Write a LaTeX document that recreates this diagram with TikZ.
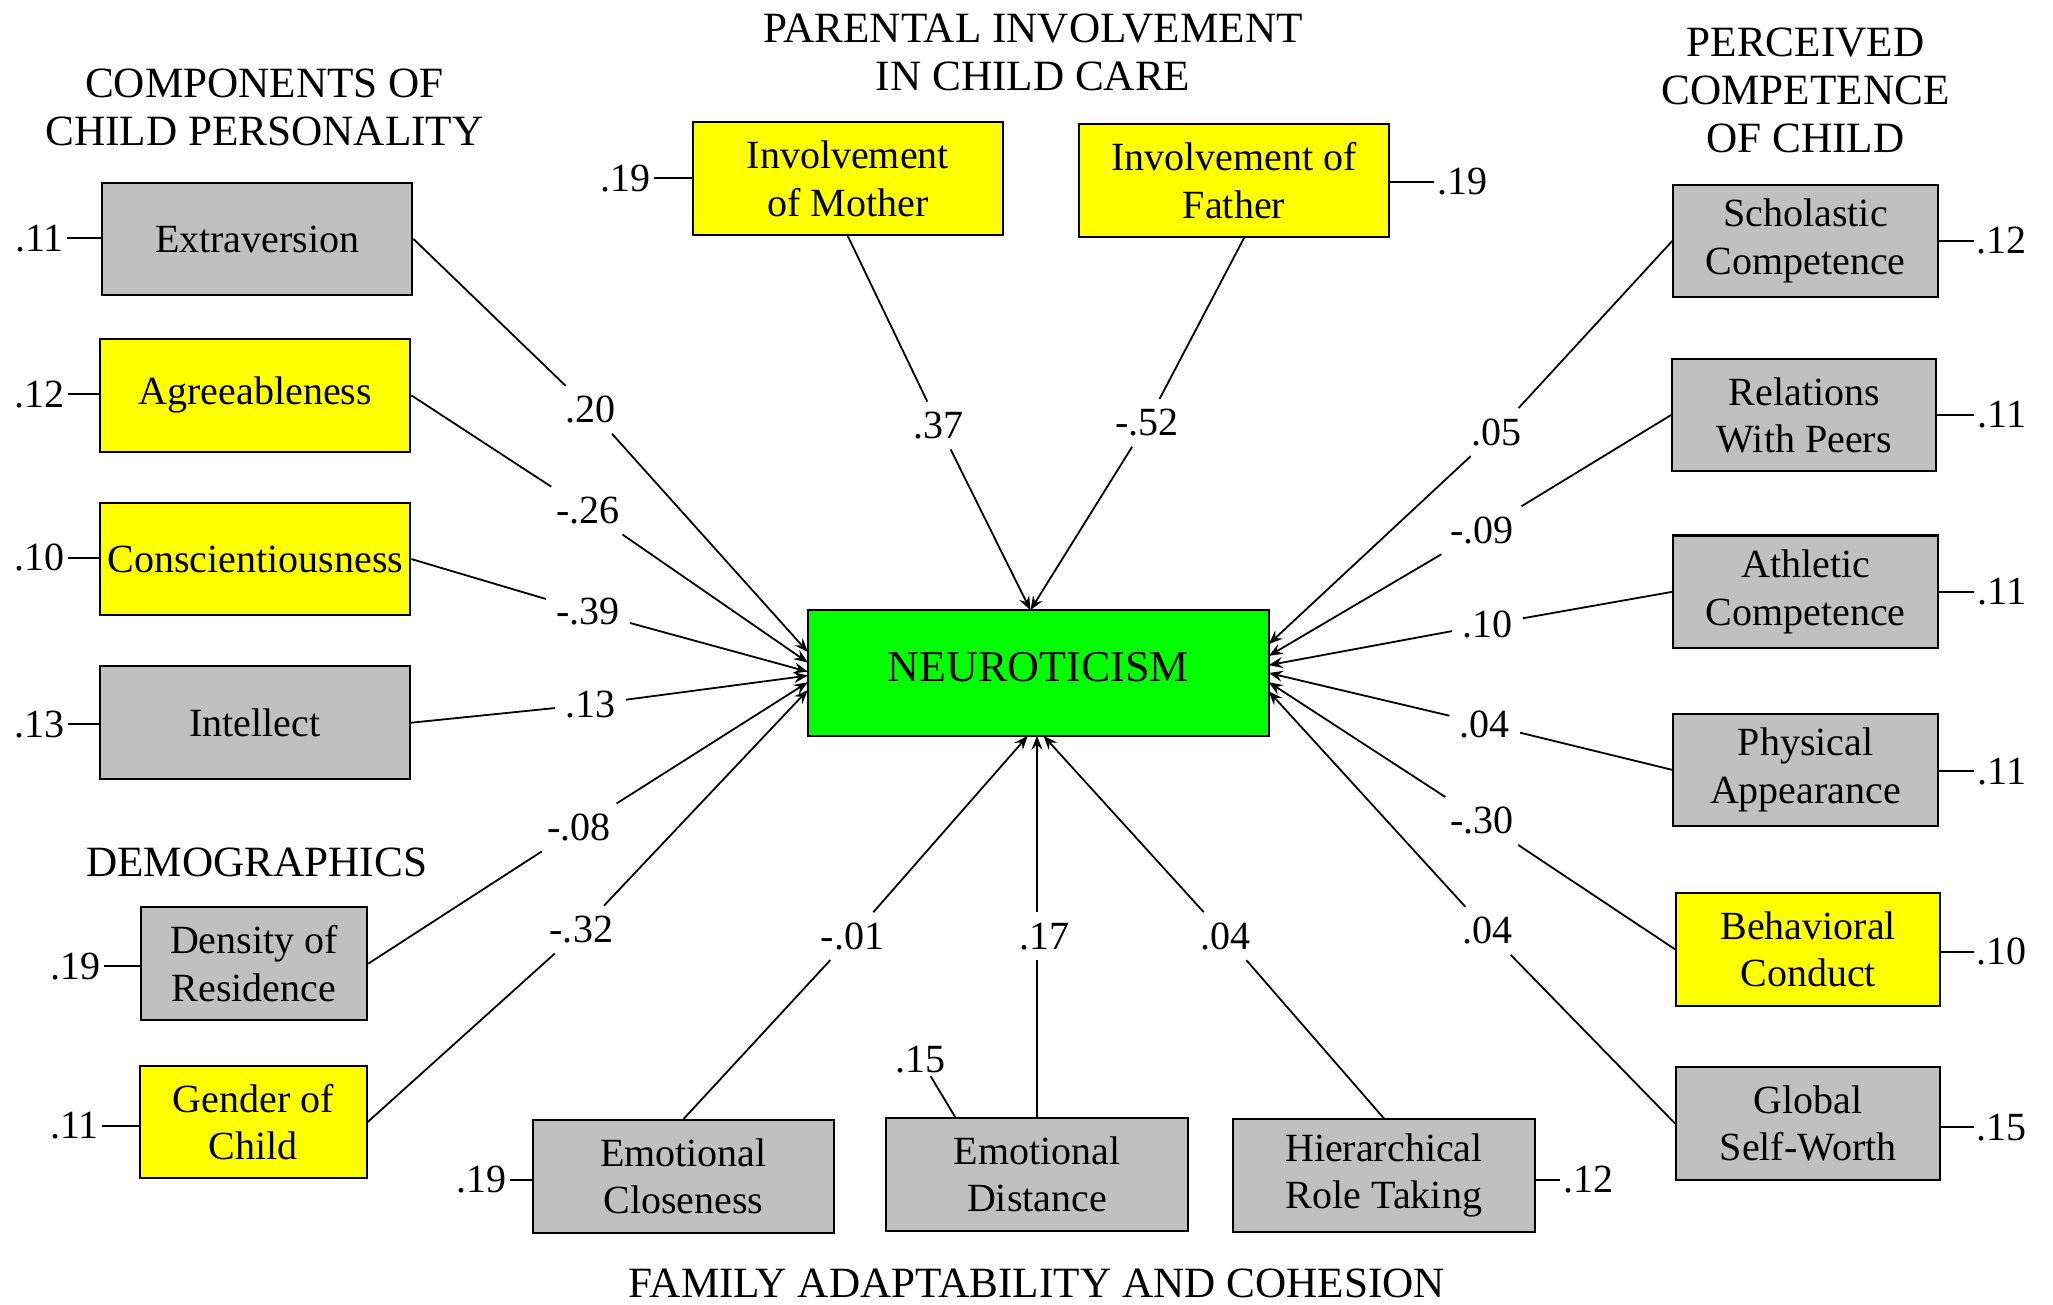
\documentclass[tikz,border=0pt]{standalone}
\usepackage{fontspec}
\setmainfont{Liberation Serif}
\usetikzlibrary{arrows.meta}
\definecolor{boxgray}{RGB}{192,192,192}
\definecolor{boxyellow}{RGB}{255,255,0}
\definecolor{boxgreen}{RGB}{0,255,0}
\newcommand\boxfont{\fontsize{20}{23.6}\selectfont}
\newcommand\headfont{\fontsize{21.6}{24.2}\selectfont}
\newcommand\mainfont{\fontsize{22}{26}\selectfont}
\begin{document}
\begin{tikzpicture}[x=0.6545pt,y=-0.6545pt,
  box/.style={draw, line width=1pt, inner sep=0pt, align=center, font=\boxfont, minimum height=56.3pt},
  gbox/.style={box, fill=boxgray},
  ybox/.style={box, fill=boxyellow},
  wideL/.style={minimum width=155.1pt},
  narrowL/.style={minimum width=113.2pt},
  wideR/.style={minimum width=132.2pt},
  wideB/.style={minimum width=150.5pt},
  coef/.style={inner sep=5pt, font=\boxfont},
  err/.style={inner sep=1.5pt, font=\boxfont},
  head/.style={align=center, font=\headfont},
  conn/.style={line width=0.9pt},
  arr/.style={conn, -{Stealth[length=7pt,width=5.5pt,inset=2.5pt]}}
]
\path[use as bounding box] (0,0) rectangle (1568,996);

% group headings
\node[head] (hPers) at (202,82) {COMPONENTS OF\\CHILD PERSONALITY};
\node[head] (hPar)  at (789,40) {PARENTAL INVOLVEMENT\\IN CHILD CARE};
\node[head] (hComp) at (1379,69) {PERCEIVED\\COMPETENCE\\OF CHILD};
\node[head] (hDem)  at (196,659) {DEMOGRAPHICS};
\node[head] (hFam)  at (792,980) {FAMILY ADAPTABILITY AND COHESION};

% central outcome
\node[box, fill=boxgreen, font=\mainfont, minimum width=230.4pt, minimum height=62.8pt] (neu) at (793,514) {\raisebox{6.5pt}{NEUROTICISM}};

% personality components
\node[gbox, wideL] (ext) at (196.5,182.5) {Extraversion};
\node[ybox, wideL] (agr) at (195,302) {Agreeableness};
\node[ybox, wideL] (con) at (195,427) {Conscientiousness};
\node[gbox, wideL] (int) at (194.5,552) {Intellect};
% demographics
\node[gbox, narrowL] (den) at (194,736) {Density of\\Residence};
\node[ybox, narrowL] (gen) at (193.5,857) {Gender of\\Child};
% parental involvement
\node[ybox, wideL] (mot) at (647.5,136.5) {Involvement\\of Mother};
\node[ybox, wideL] (fat) at (942.5,138) {Involvement of\\Father};
% perceived competence
\node[gbox, wideR] (sch) at (1379,184) {Scholastic\\Competence};
\node[gbox, wideR] (rel) at (1378,317) {Relations\\With Peers};
\node[gbox, wideR] (ath) at (1379,452) {Athletic\\Competence};
\node[gbox, wideR] (phy) at (1379,588) {Physical\\Appearance};
\node[ybox, wideR] (beh) at (1381,725) {Behavioral\\Conduct};
\node[gbox, wideR] (glo) at (1381,858) {Global\\Self-Worth};
% family adaptability and cohesion
\node[gbox, wideB] (clo) at (522,898.5) {Emotional\\Closeness};
\node[gbox, wideB] (dis) at (792,897) {Emotional\\Distance};
\node[gbox, wideB] (hie) at (1057,898) {Hierarchical\\Role Taking};

% error terms
\node[err] (eExt) at (30,182) {.11};
\node[err] (eAgr) at (30,301) {.12};
\node[err] (eCon) at (30,426) {.10};
\node[err] (eInt) at (30,553) {.13};
\node[err] (eDen) at (58,738) {.19};
\node[err] (eGen) at (57,860) {.11};
\node[err] (eMot) at (478,136) {.19};
\node[err] (eFat) at (1117,139) {.19};
\node[err] (eSch) at (1529,184) {.12};
\node[err] (eRel) at (1529,317) {.11};
\node[err] (eAth) at (1529,452) {.11};
\node[err] (ePhy) at (1529,589) {.11};
\node[err] (eBeh) at (1529,727) {.10};
\node[err] (eGlo) at (1529,861) {.15};
\node[err] (eClo) at (368,901) {.19};
\node[err] (eDis) at (703,809) {.15};
\node[err] (eHie) at (1213,901) {.12};

\foreach \e/\b in {eExt/ext,eAgr/agr,eCon/con,eInt/int,eDen/den,eGen/gen,eMot/mot,eClo/clo}
  \draw[conn] (\e.east) -- (\e.east -| \b.west);
\foreach \e/\b in {eFat/fat,eSch/sch,eRel/rel,eAth/ath,ePhy/phy,eBeh/beh,eGlo/glo,eHie/hie}
  \draw[conn] (\e.west) -- (\e.west -| \b.east);
\coordinate (disTop) at (730,854);
\draw[conn] (eDis) -- (disTop);

% path coefficients
\node[coef] (cExt) at (451,313) {.20};
\node[coef] (cAgr) at (449,390) {-.26};
\node[coef] (cCon) at (449,467) {-.39};
\node[coef] (cInt) at (451,538) {.13};
\node[coef] (cDen) at (442,632) {-.08};
\node[coef] (cGen) at (444,710) {-.32};
\node[coef] (cMot) at (717,325) {.37};
\node[coef] (cFat) at (876,323) {-.52};
\node[coef] (cSch) at (1143,330) {.05};
\node[coef] (cRel) at (1132,405) {-.09};
\node[coef] (cAth) at (1136,477) {.10};
\node[coef] (cPhy) at (1134,553) {.04};
\node[coef] (cBeh) at (1132,627) {-.30};
\node[coef] (cGlo) at (1136,711) {.04};
\node[coef] (cClo) at (651,715) {-.01};
\node[coef] (cDis) at (798,715) {.17};
\node[coef] (cHie) at (936,715) {.04};

% arrow end points on the outcome box
\coordinate (tExt) at (617,498);
\coordinate (tAgr) at (617,506);
\coordinate (tCon) at (617,513);
\coordinate (tInt) at (617,516);
\coordinate (tDen) at (617,521);
\coordinate (tGen) at (617,527);
\coordinate (tTop) at (787,466);
\coordinate (tSch) at (969,492);
\coordinate (tRel) at (969,501);
\coordinate (tAth) at (969,508);
\coordinate (tPhy) at (969,514);
\coordinate (tBeh) at (969,521);
\coordinate (tGlo) at (969,528);
\coordinate (tClo) at (785,562);
\coordinate (tDis) at (792,562);
\coordinate (tHie) at (797,562);

% paths from predictors
\foreach \b/\c/\t in {ext/cExt/tExt,agr/cAgr/tAgr,con/cCon/tCon,int/cInt/tInt,den/cDen/tDen,gen/cGen/tGen}{
  \draw[conn] (\b.east) -- (\c);
  \draw[arr] (\c) -- (\t);
}
\foreach \b/\c/\t in {sch/cSch/tSch,rel/cRel/tRel,ath/cAth/tAth,phy/cPhy/tPhy,beh/cBeh/tBeh,glo/cGlo/tGlo}{
  \draw[conn] (\b.west) -- (\c);
  \draw[arr] (\c) -- (\t);
}
\draw[conn] (mot.south) -- (cMot);
\draw[arr] (cMot) -- (tTop);
\draw[conn] ([xshift=5pt]fat.south) -- (cFat);
\draw[arr] (cFat) -- (tTop);
\foreach \b/\c/\t in {clo/cClo/tClo,hie/cHie/tHie}{
  \draw[conn] (\b.north) -- (\c);
  \draw[arr] (\c) -- (\t);
}
\draw[conn] (dis.north) -- (dis.north |- cDis.south);
\draw[arr] (dis.north |- cDis.north) -- (tDis);
\end{tikzpicture}
\end{document}
